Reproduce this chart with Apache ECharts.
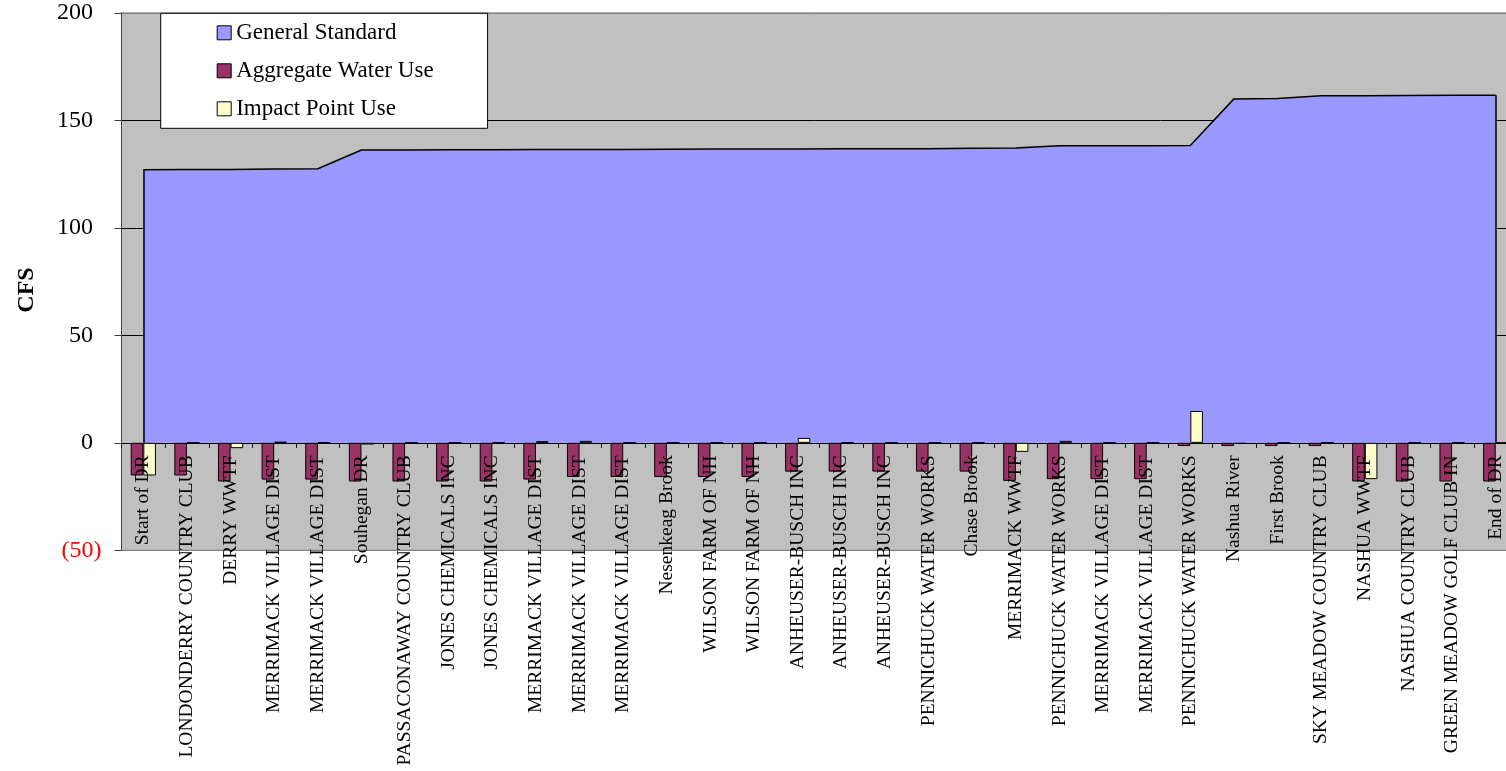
<!DOCTYPE html>
<html>
<head>
<meta charset="utf-8">
<script src="https://cdn.jsdelivr.net/npm/echarts@6/dist/echarts.min.js"></script>
<style>
html,body{margin:0;padding:0;background:#fff;}
#c{width:1506px;height:771px;}
</style>
</head>
<body>
<div id="c"></div>
<script>
const categories = [
  'Start of DR','LONDONDERRY COUNTRY CLUB','DERRY WWTF','MERRIMACK VILLAGE DIST','MERRIMACK VILLAGE DIST',
  'Souhegan DR','PASSACONAWAY COUNTRY CLUB','JONES CHEMICALS INC','JONES CHEMICALS INC','MERRIMACK VILLAGE DIST',
  'MERRIMACK VILLAGE DIST','MERRIMACK VILLAGE DIST','Nesenkeag Brook','WILSON FARM OF NH','WILSON FARM OF NH',
  'ANHEUSER-BUSCH INC','ANHEUSER-BUSCH INC','ANHEUSER-BUSCH INC','PENNICHUCK WATER WORKS','Chase Brook',
  'MERRIMACK WWTF','PENNICHUCK WATER WORKS','MERRIMACK VILLAGE DIST','MERRIMACK VILLAGE DIST','PENNICHUCK WATER WORKS',
  'Nashua River','First Brook','SKY MEADOW COUNTRY CLUB','NASHUA WWTF','NASHUA COUNTRY CLUB',
  'GREEN MEADOW GOLF CLUB IN','End of DR'
];
const generalStandard = [
  127.0,127.1,127.2,127.4,127.5,
  136.2,136.2,136.3,136.3,136.4,
  136.4,136.5,136.6,136.7,136.7,
  136.7,136.8,136.8,136.8,137.0,
  137.1,138.2,138.2,138.2,138.3,
  160.0,160.2,161.5,161.5,161.6,
  161.7,161.7
];
const aggregateWaterUse = [
  -15.2,-15.2,-18.0,-17.1,-17.1,
  -18.0,-18.0,-18.0,-18.0,-17.1,
  -15.9,-15.9,-15.9,-15.9,-15.9,
  -13.4,-13.4,-13.4,-13.4,-13.4,
  -17.7,-16.9,-16.9,-16.9,-1.5,
  -1.5,-1.5,-1.5,-18.0,-18.0,
  -18.0,-18.0
];
const impactPointUse = [
  -15.2,0,-2.5,0.5,0.2,
  -0.8,0,0,0,0.8,
  0.9,0,0,0,0,
  2.3,0,0,0,0,
  -4.2,0.9,0,0,14.8,
  -0.5,0,0,-16.9,0,
  0,0
];
const yTicks = {min:-50, max:200, interval:50};
const seriesNames = ['General Standard','Aggregate Water Use','Impact Point Use'];
const FONT = '"Liberation Serif","Times New Roman",serif';

const chart = echarts.init(document.getElementById('c'), null, {renderer:'canvas'});
const last = categories.length - 1;
chart.setOption({
  animation:false,
  textStyle:{fontFamily:FONT},
  grid:{left:121.5, top:12.9, right:-11.5, bottom:220.7, show:true, backgroundColor:'#C0C0C0', borderColor:'#808080', borderWidth:1, containLabel:false, outerBoundsMode:'none'},
  legend:{
    orient:'vertical', left:160.7, top:13.3, z:20,
    backgroundColor:'#FFFFFF', borderColor:'#000', borderWidth:1,
    padding:[8,54,8,56], itemGap:15, itemWidth:14, itemHeight:14,
    textStyle:{fontFamily:FONT, fontSize:23, color:'#000'},
    itemStyle:{borderColor:'#000', borderWidth:1},
    data:seriesNames.map(n=>({name:n, icon:'rect'}))
  },
  graphic:[{type:'text', x:27, y:290, rotation:Math.PI/2,
    style:{text:'CFS', fontFamily:FONT, fontSize:24, fontWeight:'bold', fill:'#000', align:'center', verticalAlign:'middle'}}],
  xAxis:[{
    type:'category', data:categories, boundaryGap:true,
    axisLine:{onZero:true, lineStyle:{color:'#000', width:1}},
    axisTick:{show:true, interval:0, length:5, lineStyle:{color:'#000'}},
    axisLabel:{show:false},
    splitLine:{show:false}
  },{
    type:'category', data:categories, boundaryGap:true, position:'bottom', offset:-107, z:10,
    axisLine:{show:false, onZero:false}, axisTick:{show:false},
    axisLabel:{interval:0, rotate:90, margin:12, fontSize:19.5, fontFamily:FONT, color:'#000'},
    splitLine:{show:false}
  }],
  yAxis:{
    type:'value', min:yTicks.min, max:yTicks.max, interval:yTicks.interval,
    axisLine:{show:true, lineStyle:{color:'#404040'}},
    axisTick:{show:true, length:7, lineStyle:{color:'#404040'}},
    axisLabel:{margin:20, fontSize:24, fontFamily:FONT, color:'#000',
      formatter:v=> v<0 ? '{n|('+(-v)+')}' : '{p|'+v+'}',
      rich:{n:{color:'#FF0000', fontSize:24, fontFamily:FONT}, p:{color:'#000', fontSize:24, fontFamily:FONT, padding:[0,8.5,0,0]}}},
    splitLine:{show:true, lineStyle:{color:['#808080','#000','#000','#000','#000','#808080'], width:1}}
  },
  series:[
    {name:seriesNames[0], type:'line', data:generalStandard, symbol:'none', z:1,
     itemStyle:{color:'#9999FF'}, lineStyle:{color:'#000', width:1.5},
     areaStyle:{color:'#9999FF', opacity:1},
     markLine:{silent:true, symbol:'none', label:{show:false}, lineStyle:{color:'#000', width:1.5, type:'solid'},
       data:[
         [{coord:[categories[0],0]},{coord:[categories[0],generalStandard[0]]}],
         [{coord:[last,0]},{coord:[last,generalStandard[last]]}]
       ]}
    },
    {name:seriesNames[1], type:'bar', data:aggregateWaterUse, barWidth:12.6, barGap:'0%', z:3,
     itemStyle:{color:'#993366', borderColor:'#000', borderWidth:1}},
    {name:seriesNames[2], type:'bar', data:impactPointUse, barWidth:12.6, barGap:'0%', z:3,
     itemStyle:{color:'#FFFFCC', borderColor:'#000', borderWidth:1}}
  ]
});
</script>
</body>
</html>
